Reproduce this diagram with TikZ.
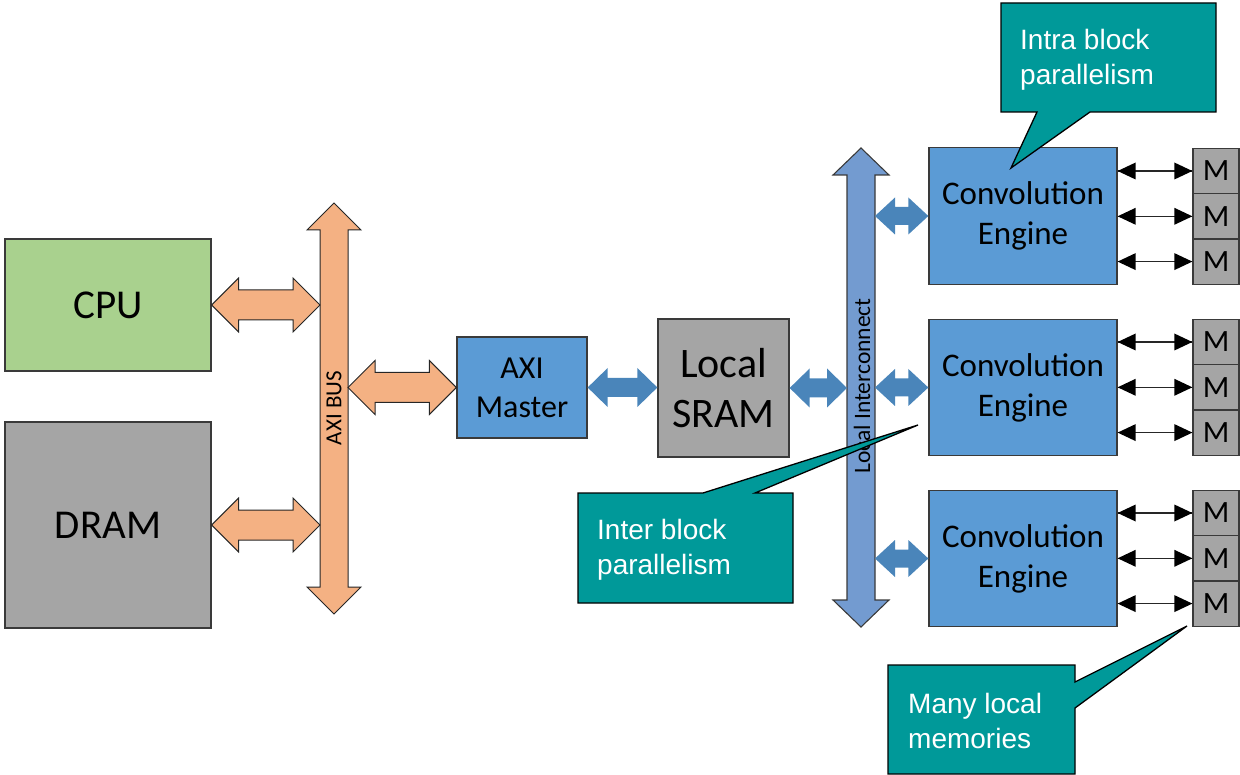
\documentclass[tikz,border=0pt]{standalone}
\usepackage{fontspec}
\setmainfont{Carlito}
\newfontfamily\calloutfont{Liberation Sans}
\usetikzlibrary{calc}

\definecolor{cpugreen}{HTML}{A9D18E}
\definecolor{boxgrey}{HTML}{A5A5A5}
\definecolor{engblue}{HTML}{5B9BD5}
\definecolor{busorange}{HTML}{F4B183}
\definecolor{linkblue}{HTML}{4A85BA}
\definecolor{icblue}{HTML}{739BD0}
\definecolor{calloutteal}{HTML}{009999}
\definecolor{edgegrey}{HTML}{3A3A3A}

% horizontal fat double arrow between two points:
% #1 style, #2 start, #3 end, #4 shaft half width, #5 head half width, #6 head length
\newcommand\fatlink[6]{%
  \path[#1] let \p1=#2, \p2=#3 in
    (\x1,\y1) -- (\x1+#6pt,\y1+#5pt) -- (\x1+#6pt,\y1+#4pt) --
    (\x2-#6pt,\y1+#4pt) -- (\x2-#6pt,\y1+#5pt) -- (\x2,\y1) --
    (\x2-#6pt,\y1-#5pt) -- (\x2-#6pt,\y1-#4pt) --
    (\x1+#6pt,\y1-#4pt) -- (\x1+#6pt,\y1-#5pt) -- cycle;}

% thin double-headed link with solid triangular heads: #1 start, #2 end
\newcommand\memlink[2]{%
  \draw[memline] #1 -- #2;
  \fill[memhead] let \p1=#1, \p2=#2 in
    (\x1,\y1) -- (\x1+18pt,\y1+8.5pt) -- (\x1+18pt,\y1-8.5pt) -- cycle
    (\x2,\y2) -- (\x2-18pt,\y2+8.5pt) -- (\x2-18pt,\y2-8.5pt) -- cycle;}

% vertical bus drawn as a fat double arrow:
% #1 style, #2 centre x, #3 top tip, #4 bottom tip, #5 shaft half, #6 head half, #7 head length
\newcommand\busbar[7]{%
  \path[#1] (#2,#3) -- ({#2+#6},{#3+#7}) -- ({#2+#5},{#3+#7}) --
    ({#2+#5},{#4-#7}) -- ({#2+#6},{#4-#7}) -- (#2,#4) --
    ({#2-#6},{#4-#7}) -- ({#2-#5},{#4-#7}) --
    ({#2-#5},{#3+#7}) -- ({#2-#6},{#3+#7}) -- cycle;}

\begin{document}
\begin{tikzpicture}[x=1pt,y=-1pt,
  block/.style={draw=edgegrey, line width=1.3pt, inner sep=0pt, align=center},
  orangelink/.style={fill=busorange, draw=black!85, line width=1pt, line join=miter},
  bluelink/.style={fill=linkblue},
  memline/.style={draw=black!85, line width=1.5pt},
  memhead/.style={fill=black},
  memblock/.style={block, fill=boxgrey, minimum width=46pt, minimum height=45.3pt,
    font=\fontsize{31}{33}\selectfont},
  engine/.style={block, fill=engblue, minimum width=188pt, minimum height=136.5pt,
    font=\fontsize{33}{40}\selectfont},
  callout/.style={fill=calloutteal, draw=black, line width=1.3pt, line join=miter},
  callouttext/.style={text=white, align=left, anchor=west, inner sep=0pt,
    font=\calloutfont\fontsize{28}{34.5}\selectfont}]

\useasboundingbox (0,0) rectangle (1240,775);

% host side
\node[block, fill=cpugreen, minimum width=206pt, minimum height=132pt,
  font=\fontsize{41}{44}\selectfont] (cpu) at (108,305) {CPU};
\node[block, fill=boxgrey, minimum width=206pt, minimum height=206pt,
  font=\fontsize{41}{44}\selectfont] (dram) at (108,525) {DRAM};

% AXI bus
\busbar{orangelink}{334}{203}{614}{14}{27}{27}
\node[rotate=90, font=\fontsize{23}{25}\selectfont, inner sep=0pt] (axibus) at (334,408) {AXI BUS};
\coordinate (axiL) at (320,0);
\coordinate (axiR) at (348,0);

\node[block, fill=engblue, minimum width=130pt, minimum height=101pt,
  font=\fontsize{32}{39}\selectfont] (master) at (522,387.5) {AXI\\Master};
\node[block, fill=boxgrey, minimum width=131pt, minimum height=138pt,
  font=\fontsize{42}{50}\selectfont] (sram) at (723.5,388) {Local\\SRAM};

% local interconnect
\busbar{block, fill=icblue, line width=1.1pt}{861}{148}{627}{14}{28}{27}
\node[rotate=90, font=\fontsize{23.5}{25}\selectfont, inner sep=0pt] (icl) at (862,386) {Local Interconnect};
\coordinate (icL) at (847,0);
\coordinate (icR) at (875,0);

% convolution engines
\node[engine] (eng1) at (1023,216) {Convolution\\Engine};
\node[engine] (eng2) at (1023,387.5) {Convolution\\Engine};
\node[engine] (eng3) at (1023,558.5) {Convolution\\Engine};

% local memories
\node[memblock] (m11) at (1216,171) {M};
\node[memblock] (m12) at (1216,216.3) {M};
\node[memblock] (m13) at (1216,261.6) {M};
\node[memblock] (m21) at (1216,342) {M};
\node[memblock] (m22) at (1216,387.3) {M};
\node[memblock] (m23) at (1216,432.6) {M};
\node[memblock] (m31) at (1216,513) {M};
\node[memblock] (m32) at (1216,558.3) {M};
\node[memblock] (m33) at (1216,603.6) {M};

% bus links
\fatlink{orangelink}{(cpu.east)}{(axiL |- cpu.east)}{15}{27}{27}
\fatlink{orangelink}{(dram.east)}{(axiL |- dram.east)}{15}{27}{27}
\fatlink{orangelink}{(axiR |- master.west)}{(master.west)}{15}{27}{27}
\fatlink{bluelink}{(master.east)}{(sram.west)}{9.5}{19.5}{20}
\fatlink{bluelink}{(sram.east)}{(icL |- sram.east)}{9.5}{19.5}{20}
\fatlink{bluelink}{(icR |- eng1.west)}{(eng1.west)}{9}{18.5}{20}
\fatlink{bluelink}{(icR |- eng2.west)}{(eng2.west)}{9}{18.5}{20}
\fatlink{bluelink}{(icR |- eng3.west)}{(eng3.west)}{9}{18.5}{20}

% engine to memory links
\foreach \e in {1,2,3}{
  \foreach \m in {1,2,3}{
    \memlink{(eng\e.east |- m\e\m.west)}{(m\e\m.west)}
  }
}

% callouts
\draw[callout] (1001,3) -- (1216,3) -- (1216,112) -- (1090,112) -- (1011,168)
  -- (1037,112) -- (1001,112) -- cycle;
\node[callouttext] (intra) at (1020,60) {Intra block\\parallelism};

\draw[callout] (578,493) -- (703,493) -- (918,425) -- (755,493) -- (793,493)
  -- (793,603) -- (578,603) -- cycle;
\node[callouttext] (inter) at (597,550) {Inter block\\parallelism};

\draw[callout] (888,665) -- (1075,665) -- (1075,682) -- (1187,626) -- (1075,708)
  -- (1075,774) -- (888,774) -- cycle;
\node[callouttext] (many) at (908,721) {Many local\\memories};

\end{tikzpicture}
\end{document}
